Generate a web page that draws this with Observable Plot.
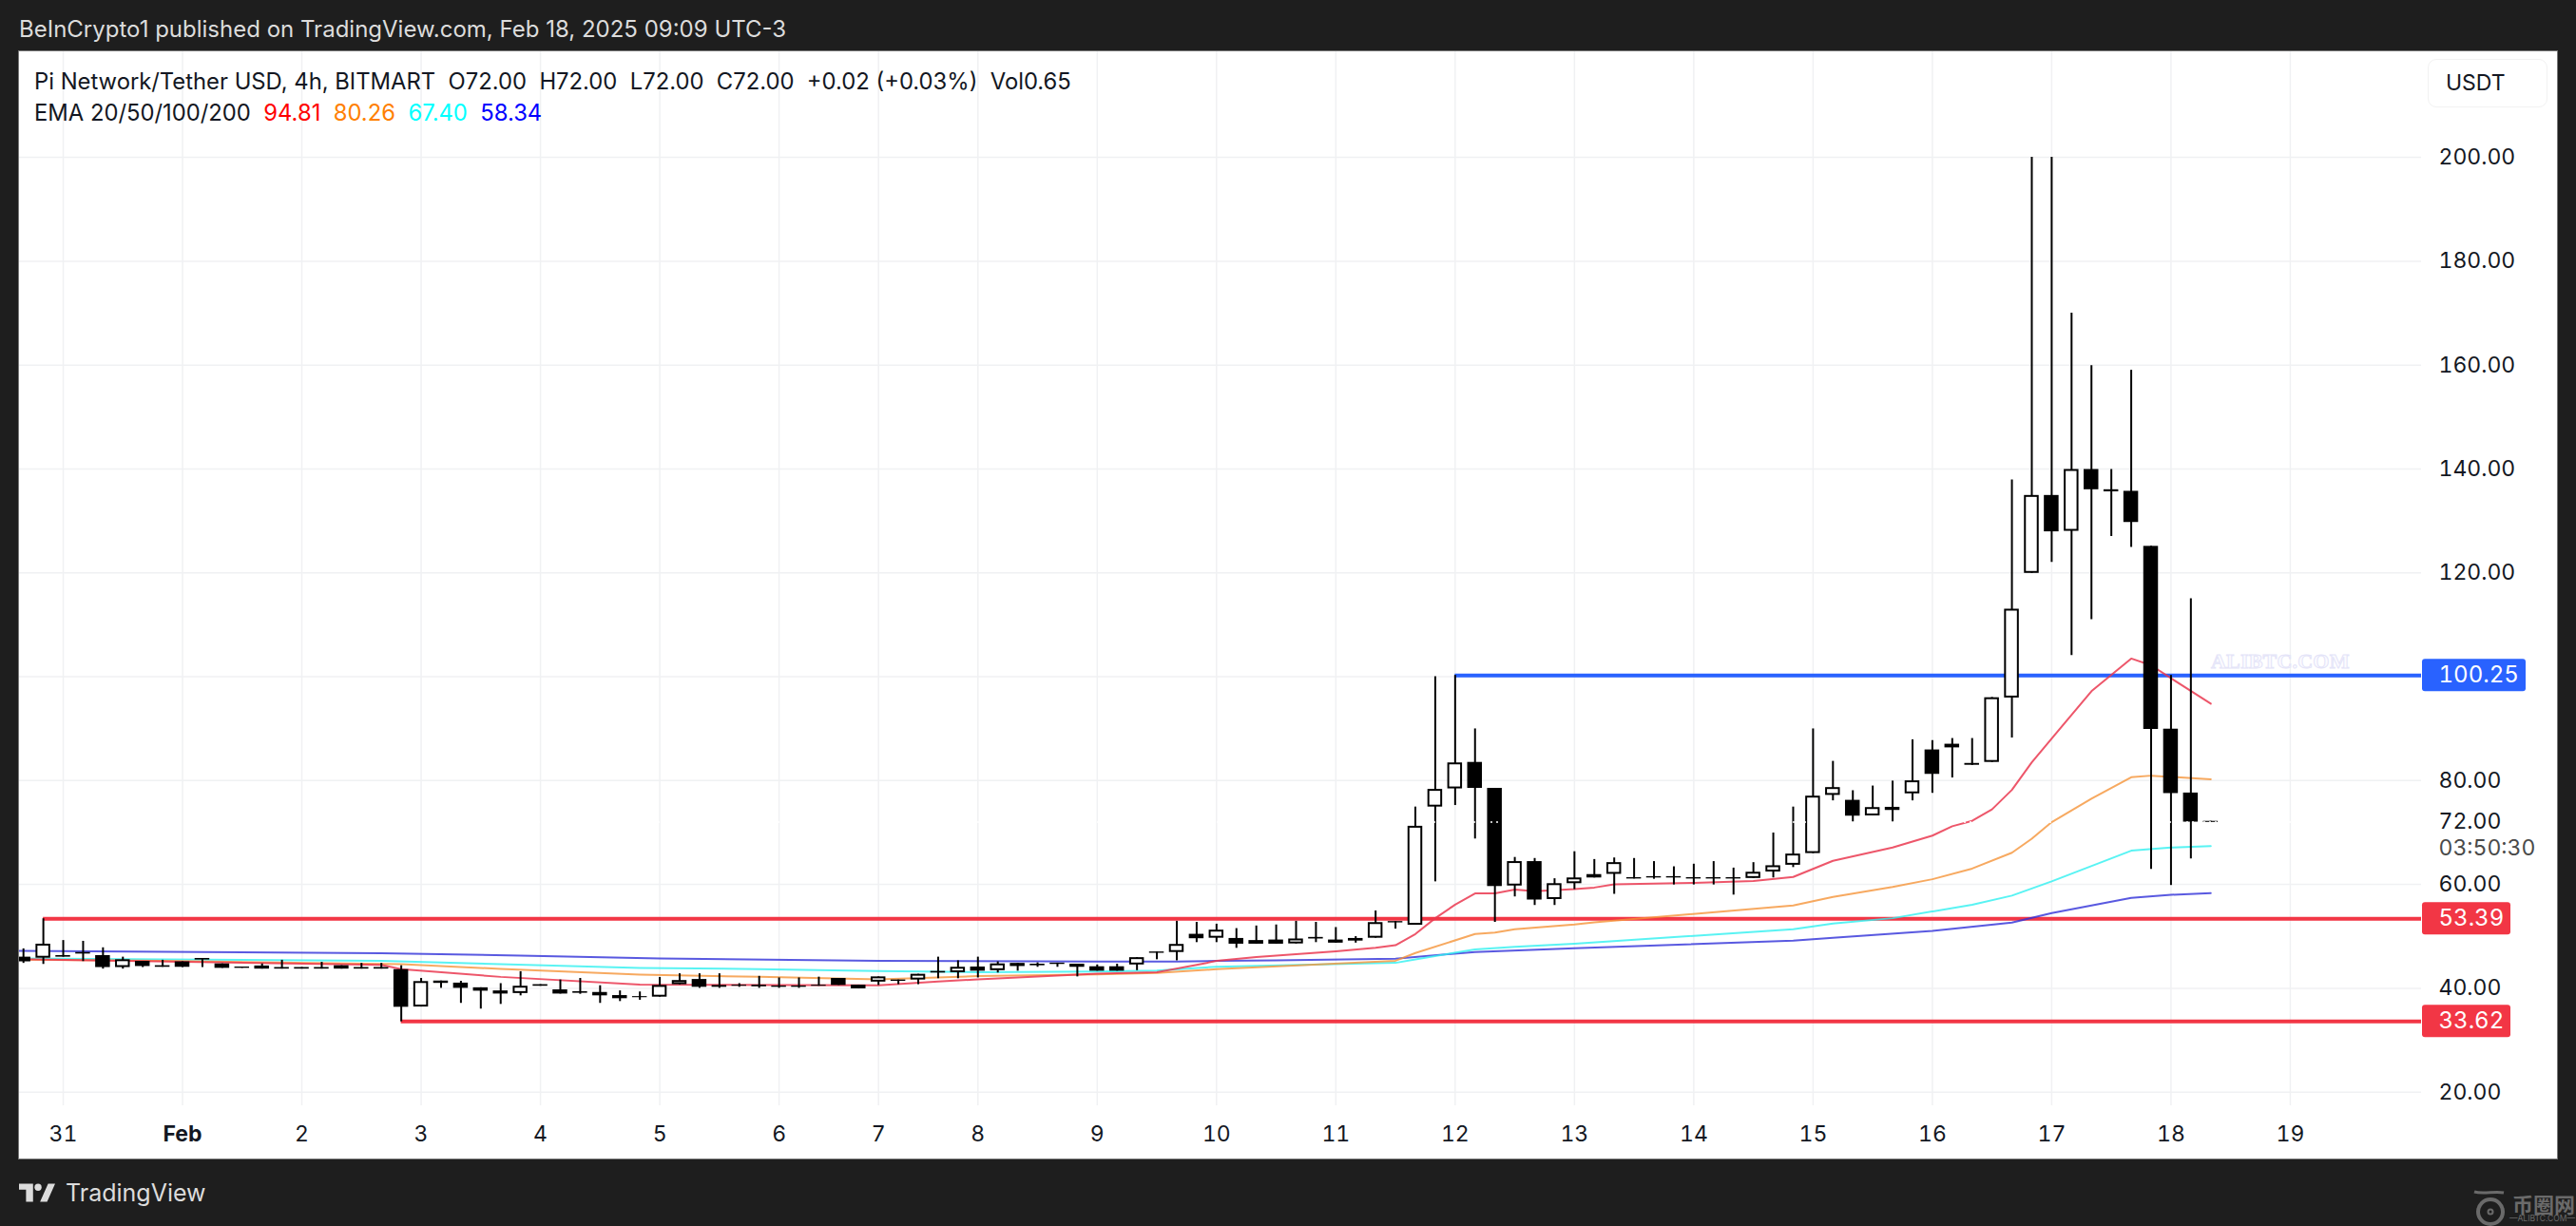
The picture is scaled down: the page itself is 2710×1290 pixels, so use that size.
<!DOCTYPE html>
<html><head><meta charset="utf-8">
<script src="https://cdn.jsdelivr.net/npm/d3@7"></script>
<script src="https://cdn.jsdelivr.net/npm/@observablehq/plot@0.6"></script>
<style>
html,body{margin:0;padding:0;background:#1e1e1e;width:2710px;height:1290px;overflow:hidden;font-family:Inter,"Noto Sans",sans-serif}
#page{position:relative;width:2710px;height:1290px}
#head{position:absolute;left:20px;top:17px;font-size:24px;line-height:28px;color:#dcdcdc;white-space:pre}
#panel{position:absolute;left:20px;top:54px;width:2670px;height:1165px;overflow:hidden;background:#fff}
#edge{position:absolute;left:20px;top:54px;width:2670px;height:1165px;box-shadow:0 0 0 1px #777}
#panel svg{display:block;background:#fff}
.leg{position:absolute;left:16px;font-size:23.8px;line-height:28px;color:#131722;white-space:pre}
#usdt{position:absolute;left:2534px;top:8px;width:126px;height:51px;border:1.5px solid #f2f2f2;border-radius:9px;box-sizing:border-box;font-size:23px;line-height:48px;color:#131722;padding-left:18px}
#wm{position:absolute;left:2306px;top:629px;font-family:"Liberation Serif",serif;font-weight:700;font-size:22px;letter-spacing:.2px;color:#fbfbff;-webkit-text-stroke:1px #e4e4f8;white-space:pre}
#tv{position:absolute;left:20px;top:1241px;display:flex;align-items:center;color:#dcdcdc;font-size:25px;line-height:28px}
#tv svg{width:38px;height:22px;margin-right:11px;fill:#dcdcdc}
#cn{position:absolute;left:2643px;top:1251px;font-family:"Noto Sans CJK SC";font-size:22px;line-height:30px;color:#6a6a6a;font-weight:700;white-space:pre}
#cn2{position:absolute;left:2640px;top:1276px;font-size:8.5px;line-height:12px;color:#6a6a6a;white-space:pre}
#coin{position:absolute;left:2602px;top:1252px;width:36px;height:38px}
</style></head><body>
<div id="page">
<div id="head">BeInCrypto1 published on TradingView.com, Feb 18, 2025 09:09 UTC-3</div>
<div id="edge"></div>
<div id="panel"></div>
<div id="tv"><svg viewBox="0 0 36 20"><path d="M14 1H0v6h7v12h7zM29 1h7l-8 18h-7z"/><circle cx="19" cy="4.5" r="3.5"/></svg><span>TradingView</span></div>
<svg id="coin" viewBox="0 0 36 38" fill="none" stroke="#6a6a6a"><path d="M1 2C10 5 22 1 32 3" stroke-width="3"/><circle cx="18" cy="23" r="13" stroke-width="4"/><circle cx="18" cy="23" r="2.5" stroke-width="2"/></svg>
<div id="cn">币圈网</div>
<div id="cn2">—ALIBTC.COM—</div>
</div>
<script>
// candles: first bar sits two bars left of the "31" tick
const firstBar = -2;
const opens = [46,45.8,46.3,46.9,46.3,44,45.2,44.35,45.1,45.75,44.7,44.1,44.3,44,44,44,44.35,44,44,43.6,36.4,41.4,41,40.1,39.5,39,40.7,39.7,39.35,39.2,38.6,38.4,38.3,40.7,41.7,40.55,40.6,40.6,40.45,40.45,40.6,41.9,40.6,41.2,41.6,41.6,43.25,43,44.1,43.4,44.8,44.65,44.85,44.65,44.15,44.15,44.5,47,46.9,50.4,49.65,49.6,48.5,49.3,48.55,49.8,49.3,49.6,49.65,52.85,52.15,74.9,78.4,83.5,78.5,59.7,64.4,57.1,60.15,61.9,61.95,61.3,61.5,61.5,61.3,61.3,61.3,61.15,62.4,63.7,65.95,77.15,76.2,73.2,74.85,77.45,85.9,87,83.3,83.5,95.9,119.9,134.9,128,139.9,136,135.7,125.1,89.9,77.6,72.15];
const highs = [47.6,53.39,49.2,49.05,47.8,46,45.2,45.4,45.1,45.75,44.7,44.1,44.7,45.4,44,45,44.35,44.8,44.8,44.35,41.9,41.4,41.35,40.1,40.9,43.2,40.7,41.6,41.9,40.5,39.5,39.3,42.1,42.8,42.8,42.8,40.9,42.3,42,42,42.15,41.9,40.6,42.2,41.6,42.7,46,45.3,46,45.1,44.8,44.9,44.85,44.65,44.5,44.65,45.9,47,52.9,52.7,52.35,51.5,52,52.2,52.9,52.7,51.7,49.95,54.9,52.85,74.9,100,100.25,89.95,78.5,65.2,65,61.1,66.3,64.8,65.1,65,64.4,63.4,63.9,64.4,63.15,64.2,69.9,74.9,89.95,83.7,78.05,78.95,79.9,87.85,87.7,88.1,88.1,96,137.9,200,200,170,159.9,139.9,159,125.1,100.25,115,72.15];
const lows = [44.8,44.6,46,45.15,43.7,43.7,44,44.05,44,44,43.85,43.85,43.7,43.7,43.7,43.7,43.7,43.7,43.7,33.55,36.4,40,37.1,36,36.9,38.55,40.4,38.9,38.85,37.1,37.45,37.7,38.3,40.7,40,40,40.2,40,40,40,40.4,40.55,39.9,40.55,40.7,40.7,41.85,41.85,42,42.95,43.3,44.05,44.05,42.2,43.3,43.3,43.4,45.5,45.3,48.8,48.8,47.7,48.5,48.5,48.55,48.8,48.7,48.7,49.65,51.4,52.15,60.5,75.2,68.75,52.7,57.6,55.95,55.95,59,61.25,58.1,61.05,61,59.9,59.9,59.9,57.95,61.15,61.25,63.25,65.95,76.1,72.05,73.2,72.05,76.1,77.55,80.5,82.9,83.5,88.2,119.9,122,104.1,111,127,124.9,62.9,59.8,64.9,71.95];
const closes = [45.1,48.5,46,46.6,44,45.5,44.2,44.05,44.05,45.45,43.85,43.85,43.7,43.7,43.7,43.7,43.7,43.7,43.7,36.35,41.3,40.95,40,39.45,38.9,40.4,40.4,38.9,39.05,38.55,38,38.2,40.55,41.5,40.2,40.2,40.4,40.3,40.2,40.2,40.4,40.55,39.9,42.2,41.35,42.7,42.95,44.05,43.3,44.7,44.2,44.35,44.6,44.05,43.3,43.3,45.9,46.75,48.45,49.55,51.2,48.5,49.2,48.5,49.5,49.5,48.7,49.1,52.65,52.6,71.2,78.3,83.4,78.5,59.6,64.4,57,60.15,61.25,61.25,64.2,61.05,61.25,61.25,61.05,61.05,61.05,62.35,63.6,65.85,77,78.65,73.15,74.8,74.25,79.95,81.2,86.3,82.95,95.95,113,134.9,127.9,139.9,136,135.6,129.7,89.85,77.5,72,71.95];

// EMA lines as [bar, value]
const ema20 = [[-2.2,45.6],[16,44.5],[17,43.7],[22,42.2],[29,40.7],[41,40.56],[44,41.3],[46,41.73],[52,42.8],[55,43.1],[57,44.5],[58,45.27],[60,46],[64,47.1],[66,47.8],[67,48.3],[68,50.45],[69,53.5],[70,56.1],[71,58.26],[72,58.3],[73,59],[74,58.7],[76,59.1],[77,59.4],[78,60],[82,60.3],[85,60.65],[87,61.44],[89,64.55],[92,67.1],[94,69.4],[95,71.2],[96,72.25],[97,74.45],[98,78.2],[99,83.5],[100,88.1],[102,97.2],[104,103.5],[105,102.2],[106,99.7],[108,94.81]];
const ema50 = [[-2.2,45.5],[5,45.27],[17,44.66],[22,43.74],[29,42.64],[35,42.2],[41,41.73],[46,42.34],[52,42.7],[55,42.95],[58,43.68],[67,45.3],[68,46.8],[71,50.45],[72,50.75],[73,51.37],[76,52.3],[77,52.7],[87,55.95],[89,57.6],[92,59.5],[94,61],[96,63.05],[98,66.1],[99,68.8],[100,72],[102,76.5],[104,80.65],[105,80.95],[108,80.26]];
const ema100 = [[-2.2,45.75],[16,45.27],[29,43.93],[35,43.7],[41,43.3],[46,43.1],[52,43.25],[55,43.4],[58,44.15],[67,44.9],[68,45.57],[71,47.5],[73,48],[76,48.6],[87,51.37],[89,52.46],[92,53.5],[96,56.1],[98,57.85],[100,60.6],[104,66.5],[106,67.1],[108,67.4]];
const ema200 = [[-2.2,47.2],[7,47],[16,46.73],[23,46.3],[30,45.75],[41,45.27],[52,45.15],[56,45.15],[58,45.27],[61,45.39],[67,45.7],[71,47],[76,47.7],[87,49.17],[89,49.72],[94,51.06],[98,52.65],[100,54.5],[104,57.4],[106,58],[108,58.34]];

// axes
const dayBars = [0,12,18,24,30,36,41,46,52,58,64,70,76,82,88,94,100,106,112];
const dayLabels = ["31","2","3","4","5","6","7","8","9","10","11","12","13","14","15","16","17","18","19"];
const monthBar = [6];
const monthLabel = "Feb";
const priceTicks = [20,40,60,72,80,120,140,160,180,200];
const gridPrices = [20,40,60,80,100,120,140,160,180,200];

// drawn levels
const levelPrices = [100.25,53.39,33.62];
const levelStartBars = [70,-1,17];
const levelColors = ["#2962ff","#f23645","#f23645"];
const countdown = "03:50:30";
const lastPrice = 72;

const xDomain = [-2.2,118.6], yDomain = [17.38,220.33];
const bars = opens.map((o,k)=>({bar:k+firstBar,o,h:highs[k],l:lows[k],c:closes[k]}));
const levels = levelPrices.map((v,k)=>({v,start:levelStartBars[k],color:levelColors[k]}));
const halfBody = 0.37;
const fontFamily = "Inter, 'Noto Sans', sans-serif";

const tagMark = (index, scales, values, dims) => {
  const g = d3.create("svg:g");
  const right = dims.width - dims.marginRight;
  levels.forEach(d => {
    g.append("rect").attr("x", right + 1).attr("y", scales.y(d.v) - 17)
     .attr("width", d.v >= 100 ? 109 : 93).attr("height", 34).attr("rx", 3).attr("fill", d.color);
  });
  return g.node();
};

const emaLine = (data, color, op) => Plot.line(data, {x: d=>d[0], y: d=>d[1], stroke: color, strokeWidth: 2, strokeOpacity: op, clip: true});

const chart = Plot.plot({
  width: 2670, height: 1166,
  marginTop: 0, marginLeft: 0, marginRight: 143, marginBottom: 57,
  x: {type:"linear", domain: xDomain},
  y: {type:"linear", domain: yDomain},
  style: {fontFamily, fontSize:"23px", background:"#fff", color:"#131722"},
  marks: [
    Plot.gridX([...dayBars,...monthBar], {x:d=>d, stroke:"#f0f1f3", strokeOpacity:1, strokeWidth:1.5}),
    Plot.gridY(gridPrices, {y:d=>d, stroke:"#f0f1f3", strokeOpacity:1, strokeWidth:1.5}),
    Plot.ruleY(levels, {y:"v", x1:"start", x2:()=>xDomain[1], stroke:"color", strokeWidth:4}),
    emaLine(ema200,"#3030d8",0.8),
    emaLine(ema100,"#2ff0f0",0.8),
    emaLine(ema50,"#f59338",0.8),
    emaLine(ema20,"#ea3850",0.85),
    Plot.ruleX(bars, {x:"bar", y1:"l", y2:"h", stroke:"#000", strokeWidth:2, clip:true}),
    Plot.rect(bars, {x1:d=>d.bar-halfBody, x2:d=>d.bar+halfBody, y1:"o", y2:"c", fill:"#000", clip:true}),
    Plot.rect(bars.filter(d=>d.c>d.o), {x1:d=>d.bar-halfBody, x2:d=>d.bar+halfBody, y1:"o", y2:"c", fill:"#fff", inset:2, clip:true}),
    Plot.ruleY([lastPrice], {stroke:"#fff", strokeWidth:1.5, strokeDasharray:"2,4"}),
    tagMark,
    Plot.axisY(priceTicks, {anchor:"right", tickSize:0, tickPadding:18, tickFormat:d=>d.toFixed(2), fontSize:23, fontVariant:"tabular-nums", label:null, fill:"#131722"}),
    Plot.axisX(dayBars, {anchor:"bottom", tickSize:0, tickPadding:21, tickFormat:d=>dayLabels[dayBars.indexOf(d)], fontSize:23, label:null, fill:"#131722"}),
    Plot.axisX(monthBar, {anchor:"bottom", tickSize:0, tickPadding:21, tickFormat:()=>monthLabel, fontSize:23, fontWeight:700, label:null, fill:"#131722"}),
    Plot.text(levels, {y:"v", frameAnchor:"right", dx:18, textAnchor:"start", text:d=>d.v.toFixed(2), fill:"#fff", fontSize:24, fontVariant:"tabular-nums"}),
    Plot.text([lastPrice], {y:d=>d, frameAnchor:"right", dx:18, dy:28, textAnchor:"start", text:()=>countdown, fill:"#4a4a4a", fontSize:23, fontVariant:"tabular-nums"})
  ]
});
const panel = document.getElementById("panel");
panel.appendChild(chart);
const mk = (cls, html, top) => { const d=document.createElement("div"); d.className=cls; d.innerHTML=html; if(top!==undefined) d.style.top=top+"px"; panel.appendChild(d); return d; };
mk("leg","Pi Network/Tether USD, 4h, BITMART  O72.00  H72.00  L72.00  C72.00  +0.02 (+0.03%)  Vol0.65",18);
mk("leg",'EMA 20/50/100/200  <span style="color:#f00">94.81</span>  <span style="color:#ff8000">80.26</span>  <span style="color:#0ff">67.40</span>  <span style="color:#00f">58.34</span>',51);
const u=document.createElement("div");u.id="usdt";u.textContent="USDT";panel.appendChild(u);
const w=document.createElement("div");w.id="wm";w.textContent="ALIBTC.COM";panel.appendChild(w);
</script>
</body></html>
